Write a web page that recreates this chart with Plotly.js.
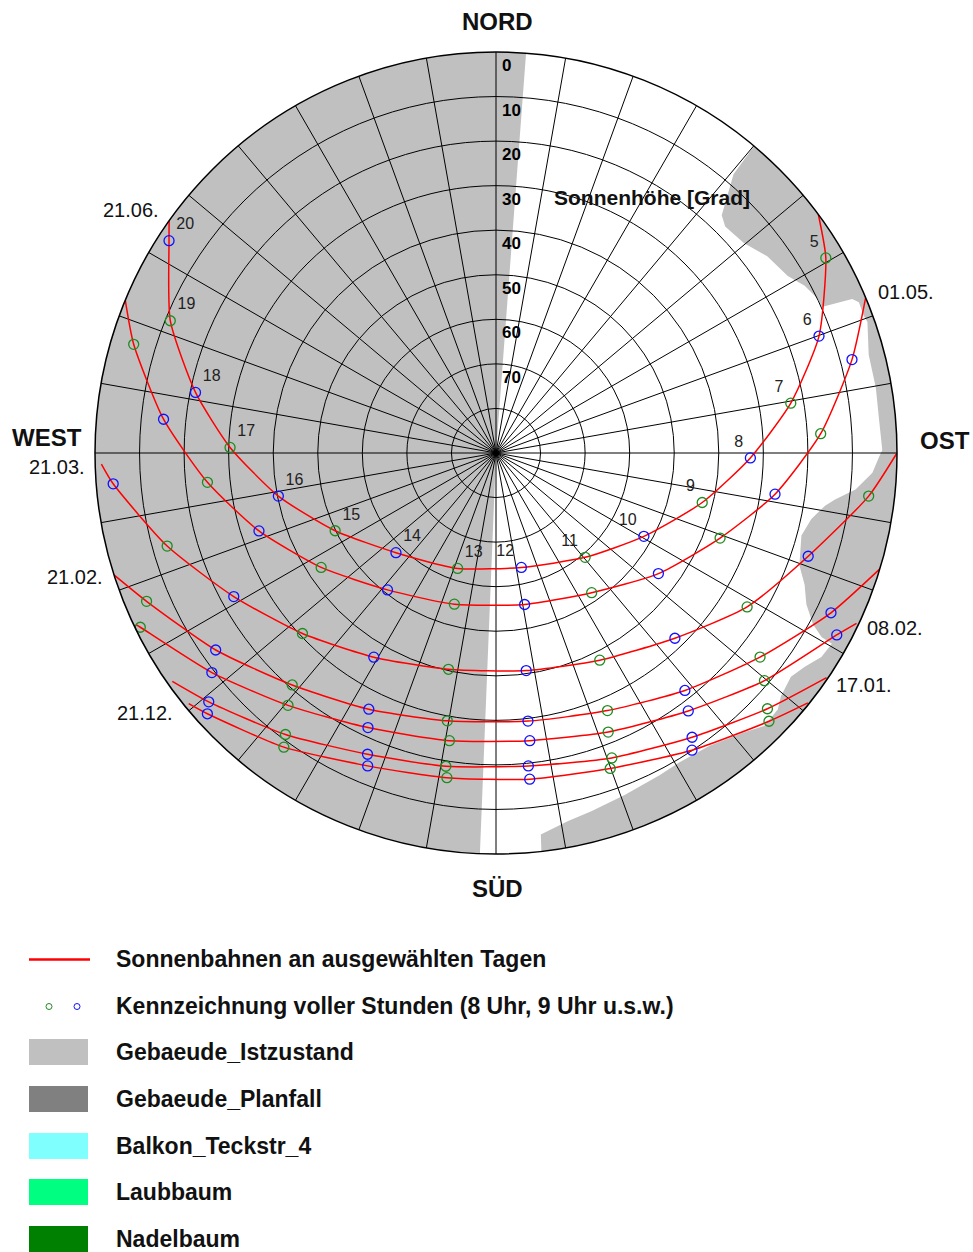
<!DOCTYPE html>
<html>
<head>
<meta charset="utf-8">
<script src="https://cdn.plot.ly/plotly-3.0.1.min.js"></script>
<style>html,body{margin:0;padding:0;background:#fff;}#chart{width:973px;height:1252px;}</style>
</head>
<body>
<div id="chart"></div>
<script>
// ---------------- DATA (azimuth in degrees from north, clockwise; altitude in degrees) ----------------
const dateLabels = ['21.06.', '01.05.', '21.03.', '21.02.', '08.02.', '17.01.', '21.12.'];

const hours_2106 = [5, 6, 7, 8, 9, 10, 11, 12, 13, 14, 15, 16, 17, 18, 19, 20];
const az_2106  = [59.4, 70.1, 80.4, 91.1, 103.5, 119.4, 139.5, 167.5, 198.4, 225.1, 244.2, 258.8, 271.2, 281.4, 292.1, 303.0];
const alt_2106 = [4.0, 12.9, 22.9, 32.9, 42.4, 51.9, 59.2, 63.7, 62.7, 58.3, 49.9, 40.2, 30.3, 21.2, 11.1, 2.5];
const rise_2106 = [53.5, 0], set_2106 = [305.4, 0];

const hours_0105 = [6, 7, 8, 9, 10, 11, 12, 13, 14, 15, 16, 17, 18, 19];
const az_0105  = [75.3, 86.6, 98.4, 110.8, 126.6, 145.6, 169.3, 195.4, 218.4, 236.8, 251.8, 264.2, 275.8, 286.7];
const alt_0105 = [7.4, 17.0, 26.7, 36.2, 44.6, 52.0, 55.4, 54.8, 50.8, 43.1, 34.0, 24.9, 15.0, 5.1];
const rise_0105 = [67.2, 0], set_0105 = [292.4, 0];

const hours_2103 = [7, 8, 9, 10, 11, 12, 13, 14, 15, 16, 17, 18];
const az_2103  = [96.6, 108.3, 121.5, 136.0, 153.4, 172.1, 192.4, 210.9, 227.0, 241.3, 254.2, 265.4];
const alt_2103 = [5.8, 16.2, 23.9, 32.2, 38.0, 40.7, 40.3, 36.6, 30.6, 22.9, 13.3, 3.8];
const rise_2103 = [90.0, 0], set_2103 = [268.4, 1.4];

const hours_2102 = [8, 9, 10, 11, 12, 13, 14, 15, 16, 17];
const az_2102  = [115.5, 127.7, 141.5, 156.6, 173.2, 190.3, 206.4, 221.3, 234.9, 247.0];
const alt_2102 = [6.7, 15.1, 21.9, 27.0, 29.4, 28.9, 25.8, 20.7, 13.1, 4.8];
const rise_2102 = [106.8, 0], set_2102 = [252.3, 0];

const hours_0802 = [8, 9, 10, 11, 12, 13, 14, 15, 16, 17];
const az_0802  = [118.1, 130.3, 143.3, 158.1, 173.3, 189.2, 205.0, 219.5, 232.3, 243.9];
const alt_0802 = [3.3, 11.0, 17.8, 22.5, 25.0, 24.6, 22.0, 16.6, 9.4, 1.1];
const rise_0802 = [115.3, 0.5], set_0802 = [244.5, 0.5];

const hours_1701 = [9, 10, 11, 12, 13, 14, 15, 16];
const az_1701  = [133.3, 145.4, 159.2, 174.1, 189.1, 203.1, 216.8, 229.1];
const alt_1701 = [6.3, 12.5, 16.8, 19.4, 18.8, 16.5, 11.1, 4.7];
const rise_1701 = [124.2, 0.3], set_1701 = [234.8, 1.1];

const hours_2112 = [9, 10, 11, 12, 13, 14, 15, 16];
const az_2112  = [134.5, 146.6, 160.1, 174.1, 188.6, 202.3, 215.8, 227.9];
const alt_2112 = [4.1, 10.1, 14.7, 16.4, 16.3, 14.1, 8.6, 2.7];
const rise_2112 = [128.7, 0.3], set_2112 = [230.8, 1.0];

// Buildings (Gebaeude_Istzustand) outlines; negative altitudes lie beyond the horizon and are clipped by the plot
const bldgWestAz  = [182.3, 182.3, 225, 270, 315, 4.3, 4.3];
const bldgWestAlt = [90, -30, -30, -30, -30, -30, 90];
const bldgEastAz  = [40.05, 40.43, 43.5, 45.35, 49.73, 54.05, 58.74, 61.55, 64.45, 65.87, 66.6, 67.43, 69.48, 70.56, 75.24, 80.24, 85.15, 89.56, 90.55, 93.0, 95.8, 97.8, 99.1, 101.8, 105.1, 110.3, 113.1, 116.0, 118.4, 119.5, 119.6, 122.1, 124.7, 127.2, 130.5, 132.3, 135.5, 138.45, 143.8, 149.3, 153.1, 159.3, 165.1, 169.0, 173.3, 173.5, 173.5, 150, 120, 90, 60, 40.05];
const bldgEastAlt = [0, 7.8, 16.4, 17.7, 17.1, 14.8, 13.4, 11.2, 9.9, 9.9, 2.9, 1.8, 1.9, 1.6, 3.5, 3.5, 3.7, 3.3, 4.0, 5.4, 8.9, 13.2, 15.2, 17.7, 19.0, 17.4, 14.7, 12.5, 9.1, 6.0, 3.3, 3.8, 5.7, 6.9, 5.9, 4.5, 4.1, 6.2, 8.65, 9.3, 8.9, 8.0, 6.8, 5.8, 3.8, 0, -30, -30, -30, -30, -30, -30];

const radialTickVals = [0, 10, 20, 30, 40, 50, 60, 70];
const compassLabels = ['NORD', 'OST', 'SÜD', 'WEST'];
const legendLabels = ['Sonnenbahnen an ausgewählten Tagen', 'Kennzeichnung voller Stunden (8 Uhr, 9 Uhr u.s.w.)',
  'Gebaeude_Istzustand', 'Gebaeude_Planfall', 'Balkon_Teckstr_4', 'Laubbaum', 'Nadelbaum'];
const legendColors = ['#c0c0c0', '#808080', '#80ffff', '#00ff80', '#008000'];

// ---------------- BUILD ----------------
const W = 973, H = 1252;
const FONT = 'Liberation Sans, Arial, Helvetica, sans-serif';
const px = x => x / W;
const py = y => 1 - y / H;
const GREEN = '#1f8a1f', BLUE = '#1010ff', RED = '#ff0000', GRAY = '#c0c0c0';

const paths = [
  {h: hours_2106, az: az_2106, alt: alt_2106, rise: rise_2106, set: set_2106, labels: true},
  {h: hours_0105, az: az_0105, alt: alt_0105, rise: rise_0105, set: set_0105},
  {h: hours_2103, az: az_2103, alt: alt_2103, rise: rise_2103, set: set_2103},
  {h: hours_2102, az: az_2102, alt: alt_2102, rise: rise_2102, set: set_2102},
  {h: hours_0802, az: az_0802, alt: alt_0802, rise: rise_0802, set: set_0802},
  {h: hours_1701, az: az_1701, alt: alt_1701, rise: rise_1701, set: set_1701},
  {h: hours_2112, az: az_2112, alt: alt_2112, rise: rise_2112, set: set_2112}
];

const traces = [];
// buildings on the lower polar subplot
traces.push({type: 'scatterpolar', subplot: 'polar', theta: bldgWestAz, r: bldgWestAlt, mode: 'lines',
  fill: 'toself', fillcolor: GRAY, line: {width: 0, color: GRAY}, hoverinfo: 'skip'});
traces.push({type: 'scatterpolar', subplot: 'polar', theta: bldgEastAz, r: bldgEastAlt, mode: 'lines',
  fill: 'toself', fillcolor: GRAY, line: {width: 0, color: GRAY}, hoverinfo: 'skip'});

// sun paths on upper polar subplot
paths.forEach((p, i) => {
  traces.push({type: 'scatterpolar', subplot: 'polar2', name: dateLabels[i],
    theta: [p.rise[0]].concat(p.az, [p.set[0]]),
    r: [p.rise[1]].concat(p.alt, [p.set[1]]),
    mode: 'lines', line: {color: RED, width: 1.5, shape: 'spline', smoothing: 0.6}, hoverinfo: 'skip'});
});
paths.forEach((p, i) => {
  const t = {type: 'scatterpolar', subplot: 'polar2', theta: p.az, r: p.alt,
    mode: p.labels ? 'markers+text' : 'markers',
    marker: {symbol: 'circle-open', size: 10, color: p.h.map(h => h % 2 ? GREEN : BLUE),
      line: {width: 1.3, color: p.h.map(h => h % 2 ? GREEN : BLUE)}},
    hoverinfo: 'skip'};
  if (p.labels) {
    t.text = p.h.map(String);
    t.textposition = p.h.map(h => h <= 12 ? 'top left' : 'top right');
    t.textfont = {family: FONT, size: 16, color: '#222'};
  }
  traces.push(t);
});
// radial tick labels along the north line
traces.push({type: 'scatterpolar', subplot: 'polar2', theta: radialTickVals.map(() => 0),
  r: radialTickVals.map(v => v + 3.3), mode: 'markers+text', text: radialTickVals.map(String),
  textposition: 'middle right', marker: {size: 8, color: 'rgba(0,0,0,0)'},
  textfont: {family: FONT, size: 17, color: '#000', weight: 'bold'}, hoverinfo: 'skip'});

const domain = {x: [px(95), px(897)], y: [py(854), py(52)]};
const hiddenRadial = {range: [90, 0], showgrid: false, showline: false, showticklabels: false, ticks: ''};
const hiddenAngular = {rotation: 90, direction: 'clockwise', showgrid: false, showline: false, showticklabels: false, ticks: ''};

const annotations = [];
const ann = (text, x, y, size, bold, anchor) => annotations.push({text: bold ? '<b>' + text + '</b>' : text,
  xref: 'paper', yref: 'paper', x: px(x), y: py(y), xanchor: anchor || 'center', yanchor: 'middle',
  showarrow: false, font: {family: FONT, size: size, color: '#111'}});

// compass
ann(compassLabels[0], 497, 22, 24, true);
ann(compassLabels[1], 945, 440, 24, true);
ann(compassLabels[2], 497, 888, 24, true);
ann(compassLabels[3], 47, 437, 24, true);
ann('Sonnenhöhe [Grad]', 652, 197, 21, true);
// date labels
const datePos = [[131, 210], [906, 292], [57, 467], [75, 577], [895, 628], [864, 685], [145, 713]];
dateLabels.forEach((d, i) => ann(d, datePos[i][0], datePos[i][1], 20, false));
// legend
const legY = [959, 1006, 1052, 1099, 1146, 1192, 1239];
legendLabels.forEach((t, i) => ann(t, 114, legY[i], 23, true, 'left'));

const shapes = [];
shapes.push({type: 'line', xref: 'paper', yref: 'paper', x0: px(29), x1: px(90), y0: py(959.5), y1: py(959.5),
  line: {color: RED, width: 2.5}});
shapes.push({type: 'circle', xref: 'paper', yref: 'paper', x0: px(46), x1: px(52), y0: py(1009.5), y1: py(1003.5),
  line: {color: GREEN, width: 1}});
shapes.push({type: 'circle', xref: 'paper', yref: 'paper', x0: px(74), x1: px(80), y0: py(1009.5), y1: py(1003.5),
  line: {color: BLUE, width: 1}});
legendColors.forEach((c, i) => {
  const cy = legY[i + 2];
  shapes.push({type: 'rect', xref: 'paper', yref: 'paper', x0: px(29), x1: px(88), y0: py(cy + 13), y1: py(cy - 13),
    fillcolor: c, line: {width: 0}});
});

const layout = {
  width: W, height: H, margin: {l: 0, r: 0, t: 0, b: 0}, paper_bgcolor: '#fff', showlegend: false,
  polar: {domain: domain, bgcolor: '#fff', radialaxis: hiddenRadial, angularaxis: hiddenAngular},
  polar2: {domain: domain, bgcolor: 'rgba(0,0,0,0)',
    radialaxis: {range: [90, 0], tick0: 0, dtick: 10, showgrid: true, gridcolor: '#000', gridwidth: 1,
      showline: false, showticklabels: false, ticks: ''},
    angularaxis: {rotation: 90, direction: 'clockwise', dtick: 10, tick0: 0, showgrid: true, gridcolor: '#000',
      gridwidth: 1, showline: true, linecolor: '#000', linewidth: 1.5, showticklabels: false, ticks: ''}},
  annotations: annotations, shapes: shapes
};

Plotly.newPlot('chart', traces, layout, {staticPlot: true, displayModeBar: false});
</script>
</body>
</html>
